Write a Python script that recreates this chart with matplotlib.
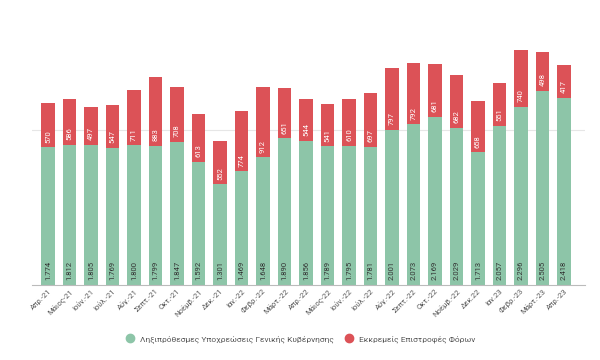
import matplotlib
matplotlib.use("Agg")
import matplotlib.pyplot as plt
from matplotlib.lines import Line2D

plt.rcParams['font.family'] = ['Roboto', 'DejaVu Sans']

# data
months = ['Απρ.-21', 'Μάιος-21', 'Ιούν.-21', 'Ιούλ.-21', 'Αύγ.-21', 'Σεπτ.-21', 'Οκτ.-21',
          'Νοέμβ.-21', 'Δεκ.-21', 'Ιαν.-22', 'Φεβρ.-22', 'Μάρτ.-22', 'Απρ.-22', 'Μάιος-22',
          'Ιούν.-22', 'Ιούλ.-22', 'Αύγ.-22', 'Σεπτ.-22', 'Οκτ.-22', 'Νοέμβ.-22', 'Δεκ.22',
          'Ιαν.23', 'Φεβρ.-23', 'Μάρτ.-23', 'Απρ.-23']
arrears = [1774, 1812, 1805, 1769, 1800, 1799, 1847, 1592, 1301, 1469, 1648, 1890, 1856,
           1789, 1795, 1781, 2001, 2073, 2169, 2029, 1713, 2057, 2296, 2505, 2418]
tax_refunds = [570, 586, 497, 547, 711, 883, 708, 613, 552, 774, 912, 651, 544,
               541, 610, 697, 797, 792, 681, 682, 658, 551, 740, 498, 417]
legend_names = ['Ληξιπρόθεσμες Υποχρεώσεις Γενικής Κυβέρνησης', 'Εκκρεμείς Επιστροφές Φόρων']

green = '#8dc5a8'
red = '#dc5257'

def fmt(v):
    return f"{v:,}".replace(",", ".")

fig = plt.figure(figsize=(6, 3.6), dpi=100)
ax = fig.add_axes([0.053, 0.208, 0.922, 0.765])

x = list(range(len(months)))
w = 0.62
ax.bar(x, arrears, width=w, color=green, zorder=2)
ax.bar(x, tax_refunds, width=w, bottom=arrears, color=red, zorder=2)

# value labels, rotated, at the base of each segment
for i in x:
    ax.text(i, 60, fmt(arrears[i]), rotation=90, ha='center', va='bottom',
            fontsize=5.5, color='#333333', zorder=3)
    ax.text(i, arrears[i] + 60, fmt(tax_refunds[i]), rotation=90, ha='center', va='bottom',
            fontsize=5.5, color='white', zorder=3)

ax.set_xlim(-0.76, 24.98)
ax.set_ylim(0, 3550)
ax.set_yticks([2000])
ax.yaxis.grid(True, color='#e6e6e6', linewidth=0.8, zorder=0)
ax.tick_params(axis='y', left=False, labelleft=False)
ax.tick_params(axis='x', length=0, pad=2)
ax.set_xticks(x)
ax.set_xticklabels(months, rotation=45, ha='right', rotation_mode='anchor',
                   fontsize=5.5, color='#555555')
for s in ['top', 'right', 'left']:
    ax.spines[s].set_visible(False)
ax.spines['bottom'].set_color('#bbbbbb')
ax.spines['bottom'].set_linewidth(0.8)

handles = [Line2D([], [], marker='o', linestyle='', markersize=6, color=c) for c in (green, red)]
fig.legend(handles, legend_names, loc='center', bbox_to_anchor=(0.497, 0.058), ncol=2,
           frameon=False, fontsize=6, labelcolor='#555555', handletextpad=0.2,
           columnspacing=0.8)

fig.savefig('out.png', dpi=100)
